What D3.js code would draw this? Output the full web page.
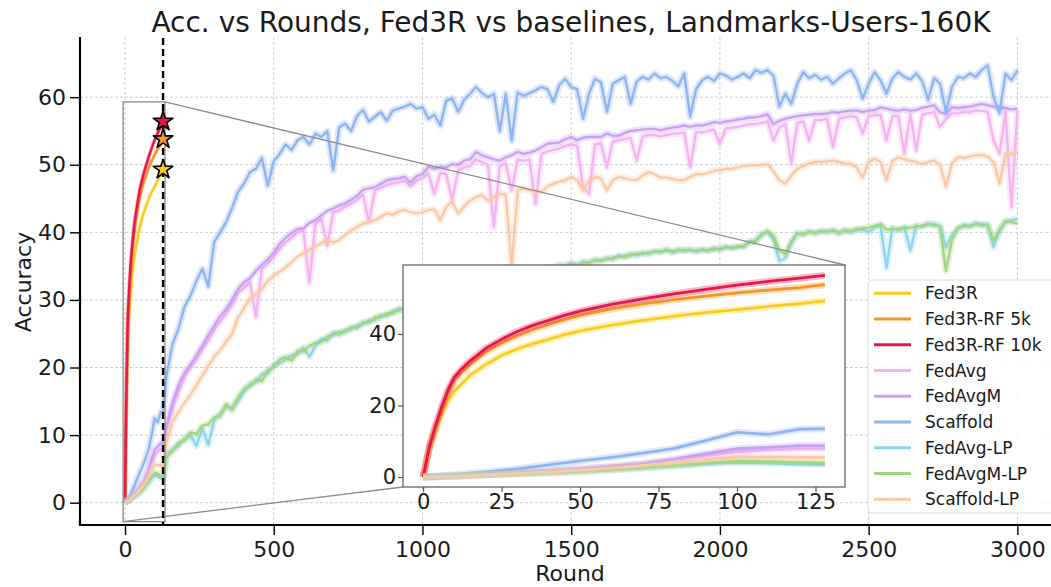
<!DOCTYPE html>
<html><head><meta charset="utf-8">
<script src="https://cdn.jsdelivr.net/npm/d3@7"></script>
<style>
body{margin:0;background:#fff}
svg{display:block}
text{font-family:"DejaVu Sans",sans-serif;fill:#1a1a1a}
</style>
</head><body>
<svg id="chart" width="1051" height="587"></svg>
<script>
// ---------------- DATA ----------------
const titleText = "Acc. vs Rounds, Fed3R vs baselines, Landmarks-Users-160K";
const seriesNames = ["Fed3R","Fed3R-RF 5k","Fed3R-RF 10k","FedAvg","FedAvgM","Scaffold","FedAvg-LP","FedAvgM-LP","Scaffold-LP"];
const seriesColors = ["#f8cd1f","#f4952a","#e8174b","#f6b3f1","#c8a2f1","#8fb5f1","#8dd5ee","#9fd680","#f9caa6"];

const mainXTicks = [0,500,1000,1500,2000,2500,3000];
const mainYTicks = [0,10,20,30,40,50,60];
const insetXTicks = [0,25,50,75,100,125];
const insetYTicks = [0,20,40];
const markerRound = 128;

// Fed3R family (rounds 0..128)
const fedRounds = [0,2,4,6,8,10,12,15,20,25,30,35,40,45,50,60,70,80,90,100,110,120,128];
const fed3r      = [0,7.8,13.2,17.8,21.5,24.1,25.8,28.5,31.5,34.0,35.8,37.3,38.5,39.8,40.9,42.5,43.8,45.0,46.0,46.8,47.7,48.5,49.3];
const fed3rRF5k  = [0,8.2,14.0,19.0,23.6,27.2,29.0,31.5,35.0,37.5,39.5,41.2,42.7,44.0,45.2,47.0,48.4,49.6,50.6,51.5,52.3,53.0,53.8];
const fed3rRF10k = [0,8.5,14.5,19.8,24.5,28.0,30.0,32.5,36.0,38.5,40.7,42.4,43.8,45.2,46.4,48.3,49.8,51.2,52.5,53.7,54.7,55.6,56.4];

// Baselines: rounds 0..128 every 10 (+128), then 140..3000 every 20
const baseEarlyRounds = [0,10,20,30,40,50,60,70,80,90,100,110,120,128];
const baseLateRounds = d3.range(140, 3001, 20);

const fedAvg = [0,0.3,0.7,1.1,1.6,2.2,2.8,3.6,4.7,6.0,7.0,7.6,7.9,7.9,
 11.0,14.0,16.5,18.6,20.0,21.2,22.8,24.0,25.6,26.8,
 28.0,29.3,31.0,31.8,32.6,27.5,34.6,35.4,36.4,37.6,
 38.5,39.2,40.0,40.2,32.6,41.2,42.0,38.0,43.0,43.2,
 43.8,44.2,44.8,45.6,41.5,46.2,46.6,47.0,47.2,47.4,
 47.6,46.8,47.6,48.0,48.7,45.7,48.8,48.6,44.7,49.2,
 49.6,49.8,50.8,50.4,50.0,40.8,49.8,50.2,46.2,50.8,
 50.6,50.8,44.2,51.6,52.0,52.2,52.4,52.8,53.0,52.8,
 46.7,45.7,53.0,53.2,49.6,53.4,53.6,53.8,54.0,50.6,
 54.2,54.4,54.4,54.2,54.4,54.6,54.6,54.8,49.6,54.8,
 54.8,55.0,55.2,53.1,55.4,55.5,55.6,55.8,56.0,56.0,
 56.2,56.4,53.6,55.5,56.0,50.1,56.2,56.4,53.6,56.6,
 56.6,56.8,52.6,56.8,57.0,57.2,57.0,54.6,57.2,57.3,
 57.4,53.6,57.2,57.2,51.6,57.4,52.1,57.4,57.6,57.8,
 55.6,56.8,57.6,57.6,57.8,57.8,58.0,58.0,57.8,53.6,
 51.6,57.8,43.7,58.0];

const fedAvgM = [0,0.3,0.7,1.2,1.7,2.3,3.0,3.8,5.0,6.5,7.9,8.3,8.8,8.8,
 11.5,14.8,17.4,19.2,20.4,21.8,23.2,24.8,26.2,27.6,
 28.6,30.0,31.6,32.6,33.2,34.3,35.2,36.0,37.0,38.3,
 39.2,39.9,40.5,40.6,41.4,41.8,42.5,43.2,43.5,44.0,
 44.3,44.8,45.4,46.3,46.5,46.7,47.2,47.7,47.9,48.0,
 48.2,47.4,48.3,48.6,49.7,49.4,49.7,49.6,50.1,50.0,
 50.6,50.8,51.9,51.4,51.1,50.8,50.6,51.1,51.4,51.9,
 51.6,51.8,52.1,52.6,53.1,53.2,53.3,53.8,54.1,53.6,
 54.0,54.1,54.1,54.1,54.6,54.3,54.3,54.7,55.0,55.1,
 55.2,55.3,55.3,55.1,55.3,55.5,55.6,55.8,55.6,55.8,
 55.8,56.0,56.3,56.2,56.4,56.5,56.7,56.8,57.0,57.0,
 57.2,57.5,56.0,56.5,56.8,57.0,57.2,57.3,57.4,57.5,
 57.5,57.6,57.8,57.7,57.9,58.0,58.0,57.8,58.0,58.1,
 58.5,58.3,58.1,58.0,58.2,58.0,58.1,58.4,58.6,58.8,
 57.8,57.5,58.5,58.4,58.5,58.6,58.8,59.0,58.8,58.6,
 58.5,58.4,58.2,58.3];

const scaffold = [0,0.6,1.4,2.3,3.4,4.5,5.5,6.7,8.0,10.2,12.5,11.9,13.4,13.5,
 19.0,23.5,25.8,29.0,30.6,32.8,34.6,32.0,38.6,40.0,
 41.5,43.6,46.0,47.2,48.9,49.4,51.0,46.9,50.5,51.6,
 53.0,52.2,53.6,54.1,53.0,54.6,54.1,55.0,49.2,55.5,
 56.1,55.0,57.2,58.1,56.4,57.1,57.8,56.5,58.0,58.3,
 58.6,59.0,58.3,58.5,56.8,57.4,55.8,59.5,59.8,57.8,
 59.6,60.5,61.5,60.6,60.0,60.5,55.0,60.5,53.6,60.7,
 60.2,60.6,61.0,61.5,61.2,59.3,61.8,62.7,61.5,61.2,
 56.8,60.5,62.7,62.2,57.8,62.0,62.5,63.0,59.0,62.3,
 63.0,62.6,63.5,62.8,63.0,62.4,61.6,63.5,57.1,61.2,
 62.5,63.0,62.4,63.5,63.2,62.6,63.0,63.5,62.8,64.0,
 63.6,64.0,63.2,58.6,60.5,59.0,62.0,63.7,62.8,63.3,
 62.6,63.0,62.0,62.8,63.5,64.0,62.5,59.8,62.0,63.7,
 62.5,60.5,62.8,63.7,63.0,62.6,63.5,62.4,59.6,62.8,
 62.0,57.8,61.5,63.0,62.8,63.5,63.0,64.0,64.7,60.0,
 57.6,63.5,62.5,64.0];

const fedAvgLP = [0,0.3,0.6,0.9,1.2,1.5,2.0,2.5,3.1,3.7,4.1,3.9,3.6,3.5,
 7.2,7.9,8.4,9.4,10.0,8.4,11.0,8.6,12.2,13.2,
 14.2,14.0,15.0,16.4,17.6,17.8,19.0,19.2,20.4,20.6,
 21.2,21.8,22.0,23.0,21.6,23.2,24.2,24.0,25.2,24.8,
 25.6,25.6,26.2,26.4,27.0,27.0,27.8,27.6,28.4,28.4,
 28.8,28.8,29.4,29.4,30.0,30.0,30.6,30.6,31.2,31.0,
 31.6,31.6,32.4,32.3,32.8,32.7,33.3,33.1,33.7,33.4,
 34.0,33.8,34.4,34.3,34.8,34.6,35.2,34.9,35.5,35.0,
 35.7,35.4,36.0,35.7,36.2,36.0,36.6,36.3,36.8,36.6,
 37.0,36.8,37.3,37.0,37.5,37.0,37.5,37.2,37.5,37.1,
 37.5,37.2,37.7,37.4,37.9,37.6,38.0,37.8,38.7,38.6,
 39.8,40.0,39.0,35.8,36.2,38.4,39.9,39.6,40.2,39.8,
 40.3,40.0,40.4,39.8,40.4,40.0,40.5,40.4,40.0,40.7,
 41.0,34.8,40.6,40.3,40.8,37.3,41.0,40.8,41.3,41.0,
 41.0,37.8,39.6,40.5,41.1,40.8,41.4,41.0,41.2,37.8,
 40.4,41.5,41.8,42.0];

const fedAvgMLP = [0,0.3,0.6,0.9,1.2,1.5,2.0,2.6,3.2,3.9,4.4,4.3,4.0,3.9,
 6.8,7.6,8.9,9.2,10.4,10.2,11.4,11.6,12.6,12.8,
 14.6,13.7,15.6,16.8,17.2,18.2,18.0,19.6,20.0,21.2,
 21.6,21.0,22.4,22.4,23.2,23.6,23.8,24.6,24.8,25.3,
 25.2,26.0,25.8,26.7,26.6,27.4,27.4,28.0,28.0,28.7,
 28.5,29.1,29.1,29.7,29.7,30.4,30.2,30.9,30.8,31.4,
 31.5,31.8,32.2,32.5,32.6,32.9,33.1,33.3,33.5,33.6,
 33.8,34.0,34.2,34.5,34.6,34.8,35.0,35.1,35.3,35.2,
 35.5,35.6,35.8,35.9,36.0,36.2,36.4,36.5,36.6,36.8,
 36.8,37.0,37.1,37.2,37.3,37.2,37.3,37.4,37.3,37.3,
 37.3,37.4,37.5,37.6,37.7,37.8,37.8,38.0,38.5,38.8,
 39.6,40.2,39.4,37.3,36.8,38.6,39.8,39.8,40.0,40.0,
 40.1,40.2,40.2,40.0,40.2,40.2,40.4,40.6,40.7,40.9,
 41.2,40.4,40.5,40.5,40.6,40.7,40.8,41.0,41.2,41.2,
 40.8,34.3,38.8,40.7,40.9,41.0,41.2,41.2,41.0,38.8,
 40.2,41.7,41.5,41.3];

const scaffoldLP = [0,0.2,0.6,1.0,1.4,1.9,2.5,3.2,4.0,4.9,5.6,5.6,5.5,5.4,
 9.0,12.0,13.4,14.8,16.0,17.4,18.8,20.2,21.6,22.6,
 23.8,25.0,27.4,28.8,30.2,30.8,31.6,32.8,33.6,34.2,
 34.8,35.6,36.4,36.9,37.4,37.9,38.4,38.9,38.5,38.9,
 39.6,40.3,40.8,41.3,41.5,41.8,42.3,42.8,42.6,43.1,
 43.3,43.0,42.8,43.0,43.3,43.4,41.8,43.8,44.5,42.8,
 43.8,44.7,45.2,45.5,44.7,45.2,45.7,45.6,35.0,46.2,
 46.5,46.2,46.0,46.0,46.8,47.2,47.5,47.7,48.2,47.7,
 46.2,47.6,48.2,48.0,46.2,47.7,48.2,48.0,47.8,47.7,
 48.4,48.9,48.6,48.1,48.1,47.9,47.7,47.7,48.2,48.6,
 48.6,48.8,49.1,49.2,49.4,49.4,49.6,49.8,49.9,49.9,
 50.0,50.1,49.0,47.7,47.2,48.4,49.4,49.8,50.2,50.4,
 50.4,50.5,50.6,50.4,50.2,50.1,49.6,48.1,50.4,50.9,
 50.4,47.7,50.6,51.1,50.8,50.6,50.4,50.1,50.4,50.6,
 50.0,46.7,50.2,51.1,51.0,51.2,51.4,51.4,51.2,50.4,
 47.2,51.6,51.6,51.9];

// ---------------- BUILD ----------------
const baseRounds = baseEarlyRounds.concat(baseLateRounds);
const fedValues = [fed3r, fed3rRF5k, fed3rRF10k];
const baseValues = [fedAvg, fedAvgM, scaffold, fedAvgLP, fedAvgMLP, scaffoldLP];

const series = seriesNames.map((name, i) => {
  const isFed = i < 3;
  const rounds = isFed ? fedRounds : baseRounds;
  const vals = isFed ? fedValues[i] : baseValues[i - 3];
  const n = Math.min(rounds.length, vals.length);
  return {name, color: seriesColors[i], isFed,
          points: d3.range(n).map(k => ({x: rounds[k], y: vals[k]}))};
});

const svg = d3.select("#chart");
const fmt = d3.format("d");

// Main scales
const x = d3.scaleLinear().domain([-151.3, 3150]).range([80, 1062]);
const y = d3.scaleLinear().domain([-3.3, 68.9]).range([525, 37]);

// Inset scales
const xi = d3.scaleLinear().domain([-6.4, 134.4]).range([403, 845]);
const yi = d3.scaleLinear().domain([-2.8, 59.3]).range([487, 265]);

// Grid
const grid = svg.append("g");
grid.selectAll(".gx").data(mainXTicks).join("line")
  .attr("x1", d => x(d)).attr("x2", d => x(d)).attr("y1", 37).attr("y2", 525)
  .attr("stroke", "#cfcfcf").attr("stroke-width", 1).attr("stroke-dasharray", "3,2");
grid.selectAll(".gy").data(mainYTicks).join("line")
  .attr("x1", 80).attr("x2", 1062).attr("y1", d => y(d)).attr("y2", d => y(d))
  .attr("stroke", "#cfcfcf").attr("stroke-width", 1).attr("stroke-dasharray", "3,2");

// Main lines
const lineMain = d3.line().x(d => x(d.x)).y(d => y(d.y));
const gMain = svg.append("g");
series.forEach(s => {
  gMain.append("path").attr("d", lineMain(s.points)).attr("fill", "none")
    .attr("stroke", s.color).attr("stroke-opacity", 0.3)
    .attr("stroke-width", s.isFed ? 4 : 7).attr("stroke-linejoin", "round");
  gMain.append("path").attr("d", lineMain(s.points)).attr("fill", "none")
    .attr("stroke", s.color).attr("stroke-width", s.isFed ? 2.4 : 2.4).attr("stroke-linejoin", "round");
});

// Zoom rectangle + connectors
const rx0 = x(xi.domain()[0]), rx1 = x(xi.domain()[1]);
const ry0 = y(yi.domain()[1]), ry1 = y(yi.domain()[0]);
svg.append("rect").attr("x", rx0).attr("y", ry0).attr("width", rx1 - rx0).attr("height", ry1 - ry0)
  .attr("fill", "none").attr("stroke", "#8c8c8c").attr("stroke-width", 1.3);
svg.append("line").attr("x1", rx1).attr("y1", ry0).attr("x2", xi.range()[1]).attr("y2", yi.range()[1])
  .attr("stroke", "#8c8c8c").attr("stroke-width", 1.3);
svg.append("line").attr("x1", rx0).attr("y1", ry1).attr("x2", xi.range()[0]).attr("y2", yi.range()[0])
  .attr("stroke", "#8c8c8c").attr("stroke-width", 1.3);

// Dashed marker line
svg.append("line").attr("x1", x(markerRound)).attr("x2", x(markerRound)).attr("y1", 38).attr("y2", 525)
  .attr("stroke", "#000").attr("stroke-width", 2.4).attr("stroke-dasharray", "7,4");

// Stars at final Fed3R values
const star = d3.symbol().type(d3.symbolStar).size(118);
series.filter(s => s.isFed).forEach(s => {
  const last = s.points[s.points.length - 1];
  svg.append("path").attr("d", star())
    .attr("transform", `translate(${x(last.x)},${y(last.y)})`)
    .attr("fill", s.color).attr("stroke", "#000").attr("stroke-width", 1.6).attr("stroke-linejoin", "round");
});

// Spines
svg.append("line").attr("x1", 80).attr("x2", 80).attr("y1", 37).attr("y2", 526)
  .attr("stroke", "#000").attr("stroke-width", 2.2);
svg.append("line").attr("x1", 79).attr("x2", 1062).attr("y1", 525).attr("y2", 525)
  .attr("stroke", "#000").attr("stroke-width", 2.2);

// Main axes ticks
const axX = svg.append("g").attr("transform", "translate(0,525)")
  .call(d3.axisBottom(x).tickValues(mainXTicks).tickFormat(fmt).tickSize(10).tickPadding(6));
const axY = svg.append("g").attr("transform", "translate(80,0)")
  .call(d3.axisLeft(y).tickValues(mainYTicks).tickFormat(fmt).tickSize(10).tickPadding(4));
[axX, axY].forEach(a => {
  a.select(".domain").remove();
  a.selectAll(".tick line").attr("stroke", "#000").attr("stroke-width", 1.4);
  a.selectAll(".tick text").attr("font-size", 22).attr("font-family", "DejaVu Sans").attr("fill", "#1a1a1a");
});

// Inset
const gi = svg.append("g");
gi.append("rect").attr("x", 403).attr("y", 265).attr("width", 442).attr("height", 222).attr("fill", "#fff");
svg.append("clipPath").attr("id", "insetClip").append("rect")
  .attr("x", 403).attr("y", 265).attr("width", 442).attr("height", 222);
const lineInset = d3.line().x(d => xi(d.x)).y(d => yi(d.y));
const gil = gi.append("g").attr("clip-path", "url(#insetClip)");
series.forEach(s => {
  const pts = s.points.filter(p => p.x <= markerRound);
  gil.append("path").attr("d", lineInset(pts)).attr("fill", "none")
    .attr("stroke", s.color).attr("stroke-opacity", 0.3)
    .attr("stroke-width", 7).attr("stroke-linejoin", "round");
  gil.append("path").attr("d", lineInset(pts)).attr("fill", "none")
    .attr("stroke", s.color).attr("stroke-width", 2.8).attr("stroke-linejoin", "round");
});
gi.append("rect").attr("x", 403).attr("y", 265).attr("width", 442).attr("height", 222)
  .attr("fill", "none").attr("stroke", "#7a7a7a").attr("stroke-width", 1.5);
const iaxX = gi.append("g").attr("transform", "translate(0,487)")
  .call(d3.axisBottom(xi).tickValues(insetXTicks).tickFormat(fmt).tickSize(5).tickPadding(2));
const iaxY = gi.append("g").attr("transform", "translate(403,0)")
  .call(d3.axisLeft(yi).tickValues(insetYTicks).tickFormat(fmt).tickSize(5).tickPadding(2));
[iaxX, iaxY].forEach(a => {
  a.select(".domain").remove();
  a.selectAll(".tick line").attr("stroke", "#555").attr("stroke-width", 1.2);
  a.selectAll(".tick text").attr("font-size", 21).attr("font-family", "DejaVu Sans").attr("fill", "#1a1a1a");
});

// Legend
const lg = svg.append("g");
lg.append("rect").attr("x", 868).attr("y", 280).attr("width", 200).attr("height", 233).attr("rx", 4)
  .attr("fill", "#fff").attr("fill-opacity", 0.8).attr("stroke", "#dcdcdc").attr("stroke-width", 1);
series.forEach((s, i) => {
  const cy = 293.3 + i * 25.75;
  lg.append("line").attr("x1", 874).attr("x2", 911).attr("y1", cy).attr("y2", cy)
    .attr("stroke", s.color).attr("stroke-width", 3);
  lg.append("text").attr("x", 925).attr("y", cy).attr("dy", "0.36em")
    .attr("font-size", 17).text(s.name);
});

// Title & axis labels
svg.append("text").attr("x", 571).attr("y", 32).attr("text-anchor", "middle")
  .attr("font-size", 28).text(titleText);
svg.append("text").attr("x", 570).attr("y", 581).attr("text-anchor", "middle")
  .attr("font-size", 22).text("Round");
svg.append("text").attr("transform", "translate(31,282) rotate(-90)").attr("text-anchor", "middle")
  .attr("font-size", 22).text("Accuracy");
</script>
</body></html>
